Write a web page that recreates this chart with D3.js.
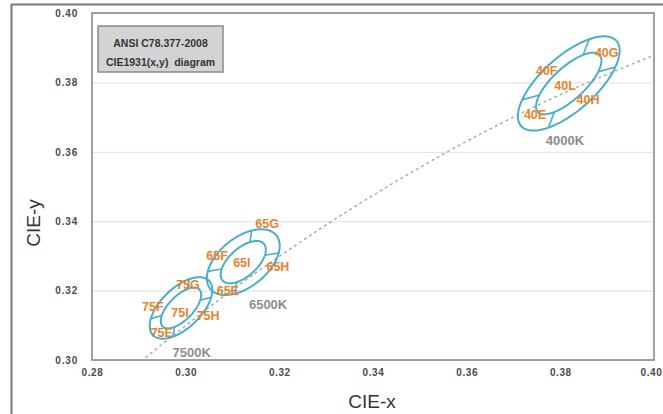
<!DOCTYPE html>
<html>
<head>
<meta charset="utf-8">
<script src="https://cdn.jsdelivr.net/npm/d3@7/dist/d3.min.js"></script>
<style>
  html, body { margin: 0; padding: 0; background: #fff; }
  svg { display: block; font-family: "Liberation Sans", Arial, sans-serif; }
</style>
</head>
<body>
<svg id="chart" width="663" height="414"></svg>
<script>
// ---- data ----
const xTicks = [0.28, 0.30, 0.32, 0.34, 0.36, 0.38, 0.40];
const yTicks = [0.30, 0.32, 0.34, 0.36, 0.38, 0.40];

// Planckian locus (CIE 1931 x,y)
const locusCCT = [3500, 4000, 4500, 5000, 5500, 6000, 6500, 7000, 7500, 8000, 9000, 10000];
const locusX   = [0.4053, 0.3805, 0.3608, 0.3451, 0.3325, 0.3221, 0.3135, 0.3064, 0.3004, 0.2952, 0.2869, 0.2807];
const locusY   = [0.3907, 0.3768, 0.3636, 0.3516, 0.3411, 0.3318, 0.3237, 0.3166, 0.3103, 0.3048, 0.2956, 0.2884];

// ellipses (data units)
const cctNames = ["4000K", "6500K", "7500K"];
const centerX  = [0.3818, 0.3123, 0.2990];
const centerY  = [0.3797, 0.3282, 0.3150];
const outerA   = [0.0161, 0.0107, 0.0100];
const outerB   = [0.0066, 0.0060, 0.0048];
const innerA   = [0.0106, 0.0070, 0.0067];
const innerB   = [0.0039, 0.0034, 0.0029];
const tiltDeg  = [54, 56, 58];
const dividerDeg = [37, 127, 217, 307];

// CCT captions
const cctLabelX = [0.3810, 0.3176, 0.3013];
const cctLabelY = [0.3634, 0.3159, 0.3023];

// quadrant labels
const quadText = ["40G","40F","40L","40H","40E","65G","65F","65I","65H","65E","75G","75F","75I","75H","75E"];
const quadX    = [0.3899,0.3771,0.3810,0.3859,0.3746, 0.3174,0.3067,0.3120,0.3197,0.3090, 0.3005,0.2930,0.2988,0.3048,0.2949];
const quadY    = [0.3885,0.3833,0.3790,0.3749,0.3706, 0.3392,0.3300,0.3280,0.3268,0.3199, 0.3216,0.3153,0.3135,0.3127,0.3078];

const legendLines = ["ANSI C78.377-2008", "CIE1931(x,y)  diagram"];

// ---- drawing ----
const svg = d3.select("#chart");
const L = 92, R = 654, T = 13, B = 360;
const x = d3.scaleLinear().domain([0.28, 0.40]).range([L, R]);
const y = d3.scaleLinear().domain([0.30, 0.40]).range([B, T]);

// outer frame
svg.append("path")
  .attr("d", `M11.5,414 L11.5,4.5 L663,4.5`)
  .attr("fill", "none").attr("stroke", "#7a7a7a").attr("stroke-width", 2);

svg.append("defs").append("clipPath").attr("id", "plotclip")
  .append("rect").attr("x", L).attr("y", T).attr("width", R - L).attr("height", B - T);

// gridlines
svg.append("g")
  .attr("transform", `translate(${L},0)`)
  .call(d3.axisLeft(y).tickValues(yTicks).tickSize(-(R - L)).tickFormat(""))
  .call(g => g.select(".domain").remove())
  .call(g => g.selectAll("line").attr("stroke", "#dedede").attr("stroke-width", 1));

// plot border
svg.append("rect").attr("x", L).attr("y", T).attr("width", R - L).attr("height", B - T)
  .attr("fill", "none").attr("stroke", "#8a8a8a").attr("stroke-width", 1.6);

// axes labels
const xAxis = svg.append("g").attr("transform", `translate(0,${B})`)
  .call(d3.axisBottom(x).tickValues(xTicks).tickSize(0).tickPadding(9).tickFormat(d3.format(".2f")));
xAxis.select(".domain").remove();
xAxis.selectAll("text").attr("font-size", 10).attr("font-weight", "bold")
  .attr("fill", "#4a4a4a").attr("letter-spacing", 0.6).attr("font-family", "Liberation Sans, Arial, sans-serif")
  .attr("dx", (d, i, n) => i === n.length - 1 ? -3 : 0);

const yAxis = svg.append("g").attr("transform", `translate(${L},0)`)
  .call(d3.axisLeft(y).tickValues(yTicks).tickSize(0).tickPadding(14).tickFormat(d3.format(".2f")));
yAxis.select(".domain").remove();
yAxis.selectAll("text").attr("font-size", 10).attr("font-weight", "bold")
  .attr("fill", "#4a4a4a").attr("letter-spacing", 0.8).attr("font-family", "Liberation Sans, Arial, sans-serif");

// axis titles
svg.append("text").attr("x", 372).attr("y", 401).attr("text-anchor", "middle")
  .attr("dominant-baseline", "central").attr("font-size", 19).attr("fill", "#333").text("CIE-x");
svg.append("text").attr("transform", "translate(33,223) rotate(-90)").attr("text-anchor", "middle")
  .attr("dominant-baseline", "central").attr("font-size", 19).attr("fill", "#333").text("CIE-y");

// Planckian locus
const locus = locusX.map((d, i) => [d, locusY[i]]);
svg.append("path").attr("clip-path", "url(#plotclip)")
  .datum(locus)
  .attr("d", d3.line().x(d => x(d[0])).y(d => y(d[1])).curve(d3.curveCatmullRom))
  .attr("fill", "none").attr("stroke", "#a8a8a8").attr("stroke-width", 1.4).attr("stroke-dasharray", "3,3");

// ellipses
function ellPt(i, a, b, tDeg) {
  const th = tiltDeg[i] * Math.PI / 180, t = tDeg * Math.PI / 180;
  const ex = a * Math.cos(t), ey = b * Math.sin(t);
  return [centerX[i] + ex * Math.cos(th) - ey * Math.sin(th),
          centerY[i] + ex * Math.sin(th) + ey * Math.cos(th)];
}
const ellLine = d3.line().x(d => x(d[0])).y(d => y(d[1])).curve(d3.curveLinearClosed);
const eg = svg.append("g").attr("fill", "none").attr("stroke", "#4aaec7").attr("stroke-width", 2);
cctNames.forEach((name, i) => {
  const ts = d3.range(0, 360, 3);
  eg.append("path").attr("d", ellLine(ts.map(t => ellPt(i, outerA[i], outerB[i], t))));
  eg.append("path").attr("d", ellLine(ts.map(t => ellPt(i, innerA[i], innerB[i], t))));
  dividerDeg.forEach(t => {
    const p1 = ellPt(i, innerA[i], innerB[i], t), p2 = ellPt(i, outerA[i], outerB[i], t);
    eg.append("line").attr("x1", x(p1[0])).attr("y1", y(p1[1])).attr("x2", x(p2[0])).attr("y2", y(p2[1]))
      .attr("stroke-width", 1.6);
  });
});

// quadrant labels
svg.append("g").selectAll("text").data(quadText).join("text")
  .attr("x", (d, i) => x(quadX[i])).attr("y", (d, i) => y(quadY[i]))
  .attr("text-anchor", "middle").attr("dominant-baseline", "central")
  .attr("font-size", 12.5).attr("font-weight", "bold").attr("fill", "#e8822c")
  .text(d => d);

// CCT labels
svg.append("g").selectAll("text").data(cctNames).join("text")
  .attr("x", (d, i) => x(cctLabelX[i])).attr("y", (d, i) => y(cctLabelY[i]))
  .attr("text-anchor", "middle").attr("dominant-baseline", "central")
  .attr("font-size", 13).attr("font-weight", "bold").attr("fill", "#8c8c8c")
  .text(d => d);

// legend box
svg.append("rect").attr("x", 98).attr("y", 26).attr("width", 125).attr("height", 46)
  .attr("fill", "#d3d3d3").attr("stroke", "#8a8a8a").attr("stroke-width", 1.5);
svg.append("g").selectAll("text").data(legendLines).join("text")
  .attr("x", 160.5).attr("y", (d, i) => 43 + i * 19)
  .attr("text-anchor", "middle").attr("dominant-baseline", "central")
  .attr("font-size", 10.5).attr("font-weight", "bold").attr("fill", "#333")
  .attr("xml:space", "preserve").style("white-space", "pre")
  .text(d => d);
</script>
</body>
</html>
